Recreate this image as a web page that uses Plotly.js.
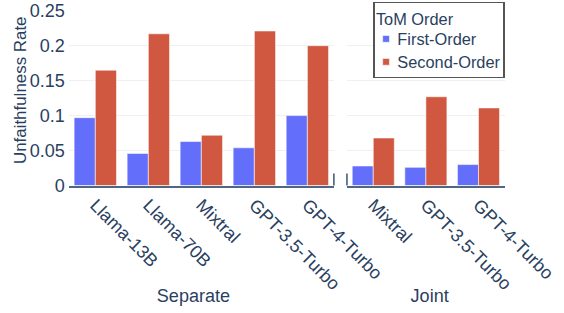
<!DOCTYPE html>
<html><head><meta charset="utf-8">
<script src="https://cdn.plot.ly/plotly-3.0.1.min.js"></script>
<style>html,body{margin:0;padding:0;background:#fff;overflow:hidden}
#wrap{width:564px;height:313px;overflow:hidden}
#chart{width:1000px;height:555px;transform:scale(0.564);transform-origin:0 0}</style>
</head><body><div id="wrap"><div id="chart"></div></div>
<script>
const sepModels = ["Llama-13B", "Llama-70B", "Mixtral", "GPT-3.5-Turbo", "GPT-4-Turbo"];
const sepFirst = [0.097, 0.046, 0.063, 0.054, 0.100];
const sepSecond = [0.165, 0.217, 0.072, 0.221, 0.200];
const jointModels = ["Mixtral", "GPT-3.5-Turbo", "GPT-4-Turbo"];
const jointFirst = [0.028, 0.026, 0.030];
const jointSecond = [0.068, 0.127, 0.111];
const yTicks = [0, 0.05, 0.1, 0.15, 0.2, 0.25];
const yTickText = ["0", "0.05", "0.1", "0.15", "0.2", "0.25"];

const blue = "#636efa", red = "#d05840";
const font = {family: "Arial, 'Liberation Sans', sans-serif", color: "#2a3f5f"};
const line = {color: "#ffffff", width: 1};
const traces = [
  {type: "bar", x: sepModels, y: sepFirst, name: "First-Order", legendgroup: "f", marker: {color: blue, line}, xaxis: "x", yaxis: "y"},
  {type: "bar", x: sepModels, y: sepSecond, name: "Second-Order", legendgroup: "s", marker: {color: red, line}, xaxis: "x", yaxis: "y"},
  {type: "bar", x: jointModels, y: jointFirst, name: "First-Order", legendgroup: "f", showlegend: false, marker: {color: blue, line}, xaxis: "x2", yaxis: "y2"},
  {type: "bar", x: jointModels, y: jointSecond, name: "Second-Order", legendgroup: "s", showlegend: false, marker: {color: red, line}, xaxis: "x2", yaxis: "y2"}
];
const d1 = [0, 0.608], d2 = [0.638, 1];
const axColor = "#506784";
const xax = (dom, anchor) => ({domain: dom, anchor: anchor, tickangle: 45,
  tickfont: {...font, size: 32}, showline: true, linecolor: axColor, linewidth: 3.5,
  showgrid: false, ticks: "", automargin: false, ticklabeloverflow: "allow"});
const yax = (showLabels, anchor) => ({range: [0, 0.25], tickvals: yTicks, ticktext: yTickText,
  showticklabels: showLabels, tickfont: {...font, size: 32}, gridcolor: "#eef0f6", gridwidth: 2,
  zeroline: false, showline: false, ticks: "", ticklabelstandoff: 6, ticklabeloverflow: "allow",
  anchor: anchor, automargin: false});
const layout = {
  width: 1000, height: 555,
  margin: {l: 121.5, r: 104.6, t: 18.6, b: 226, autoexpand: false},
  paper_bgcolor: "#fff", plot_bgcolor: "#fff",
  font: font, barmode: "group", bargap: 0.2, bargroupgap: 0,
  xaxis: xax(d1, "y"),
  xaxis2: xax(d2, "y2"),
  yaxis: yax(true, "x"),
  yaxis2: {...yax(false, "x2"), matches: "y"},
  legend: {x: 1, xanchor: "right", y: 1.0503, yanchor: "top", bgcolor: "#fff", bordercolor: "#555", borderwidth: 2.5,
    title: {text: "ToM Order", font: {...font, size: 29}}, font: {...font, size: 29},
    tracegroupgap: 0},
  annotations: [
    {text: "Separate", xref: "paper", yref: "paper", x: 0.286, y: -0.631, xanchor: "center", yanchor: "middle", showarrow: false, font: {...font, size: 32}},
    {text: "Joint", xref: "paper", yref: "paper", x: 0.828, y: -0.631, xanchor: "center", yanchor: "middle", showarrow: false, font: {...font, size: 32}},
    {text: "Unfaithfulness Rate", xref: "paper", yref: "paper", x: -0.1123, y: 0.546, xanchor: "center", yanchor: "middle", textangle: -90, showarrow: false, font: {...font, size: 30}}
  ],
  shapes: [
    {type: "line", xref: "x domain", yref: "y domain", x0: 1, x1: 1, y0: 0, y1: 0.069, line: {color: axColor, width: 3}},
    {type: "line", xref: "x2 domain", yref: "y2 domain", x0: 0, x1: 0, y0: 0, y1: 0.069, line: {color: axColor, width: 3}}
  ],
  showlegend: true
};
Plotly.newPlot("chart", traces, layout, {displayModeBar: false, staticPlot: true});
</script></body></html>
